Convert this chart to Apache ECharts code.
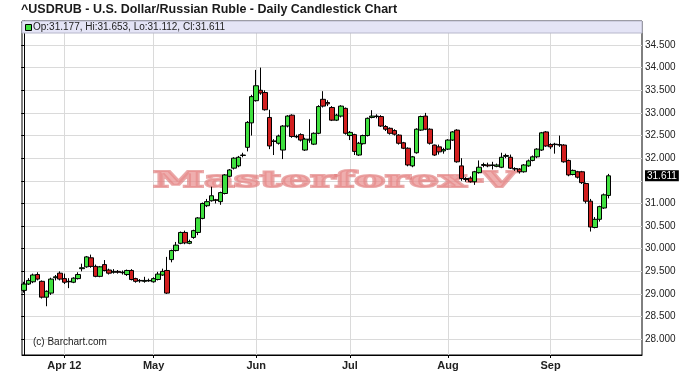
<!DOCTYPE html>
<html lang="en">
<head>
<meta charset="UTF-8">
<title>USDRUB Daily Candlestick Chart</title>
<style>
    *{
        padding:0;
        margin:0;
    }
    body{background:#fff;}
</style>
<script type="text/javascript" src="https://cdn.jsdelivr.net/npm/echarts@6.0.0/dist/echarts.min.js"></script>
</head>
<body>
<div id="main" style="width:688px;height:378px;"></div>
<script type="text/javascript">
// trading days, the last few are empty room on the right of the chart
var dates = [
    '2012-03-20','2012-03-21','2012-03-22','2012-03-23','2012-03-26','2012-03-27','2012-03-28','2012-03-29','2012-03-30',
    '2012-04-02','2012-04-03','2012-04-04','2012-04-05','2012-04-09','2012-04-10','2012-04-11','2012-04-12','2012-04-13',
    '2012-04-16','2012-04-17','2012-04-18','2012-04-19','2012-04-20','2012-04-23','2012-04-24','2012-04-25','2012-04-26',
    '2012-04-27','2012-04-30',
    '2012-05-01','2012-05-02','2012-05-03','2012-05-04','2012-05-07','2012-05-08','2012-05-09','2012-05-10','2012-05-11',
    '2012-05-14','2012-05-15','2012-05-16','2012-05-17','2012-05-18','2012-05-21','2012-05-22','2012-05-23','2012-05-24',
    '2012-05-25','2012-05-28','2012-05-29','2012-05-30','2012-05-31',
    '2012-06-01','2012-06-04','2012-06-05','2012-06-06','2012-06-07','2012-06-08','2012-06-11','2012-06-12','2012-06-13',
    '2012-06-14','2012-06-15','2012-06-18','2012-06-19','2012-06-20','2012-06-21','2012-06-22','2012-06-25','2012-06-26',
    '2012-06-27','2012-06-28','2012-06-29',
    '2012-07-02','2012-07-03','2012-07-04','2012-07-05','2012-07-06','2012-07-09','2012-07-10','2012-07-11','2012-07-12',
    '2012-07-13','2012-07-16','2012-07-17','2012-07-18','2012-07-19','2012-07-20','2012-07-23','2012-07-24','2012-07-25',
    '2012-07-26','2012-07-27','2012-07-30','2012-07-31',
    '2012-08-01','2012-08-02','2012-08-03','2012-08-06','2012-08-07','2012-08-08','2012-08-09','2012-08-10','2012-08-13',
    '2012-08-14','2012-08-15','2012-08-16','2012-08-17','2012-08-20','2012-08-21','2012-08-22','2012-08-23','2012-08-24',
    '2012-08-27','2012-08-28','2012-08-29','2012-08-30','2012-08-31',
    '2012-09-03','2012-09-04','2012-09-05','2012-09-06','2012-09-07','2012-09-10','2012-09-11','2012-09-12','2012-09-13',
    '2012-09-14','2012-09-17','2012-09-18','2012-09-19','2012-09-20',
    '2012-09-21','2012-09-24','2012-09-25','2012-09-26','2012-09-27','2012-09-28','2012-10-01'
];

var opens = [
    29.08,29.22,29.27,29.43,29.28,28.93,29.02,29.36,29.46,29.34,
    29.28,29.26,29.34,29.56,29.60,29.80,29.61,29.39,29.65,29.53,
    29.48,29.50,29.48,29.43,29.52,29.34,29.30,29.28,29.29,29.27,
    29.32,29.42,29.52,29.76,29.96,30.12,30.36,30.12,30.25,30.36,
    30.67,30.95,31.06,31.08,31.04,31.22,31.60,31.78,31.83,32.06,
    32.24,32.78,33.27,33.50,33.45,32.90,32.38,32.33,32.18,32.71,
    32.95,32.48,32.52,32.18,32.40,32.31,32.55,33.30,33.23,33.12,
    32.84,32.93,33.10,32.50,32.52,32.07,32.32,32.50,32.90,32.93,
    32.92,32.70,32.66,32.61,32.51,32.34,32.22,31.83,32.12,32.62,
    32.93,32.64,32.29,32.25,32.16,32.20,32.40,32.62,31.83,31.55,
    31.56,31.48,31.68,31.84,31.85,31.84,31.82,31.80,32.04,32.02,
    31.77,31.76,31.70,31.83,31.95,32.03,32.18,32.58,32.30,32.30,
    32.30,32.29,31.95,31.64,31.70,31.70,31.44,31.05,30.47,30.65,
    30.90,31.177
];
var closes = [
    29.22,29.30,29.42,29.33,28.93,29.06,29.33,29.38,29.33,29.26,
    29.27,29.35,29.43,29.58,29.82,29.61,29.39,29.60,29.52,29.46,
    29.50,29.48,29.47,29.52,29.32,29.28,29.29,29.30,29.30,29.34,
    29.44,29.50,29.02,29.96,30.08,30.36,30.13,30.16,30.40,30.68,
    31.00,31.04,31.17,31.07,31.24,31.63,31.74,32.00,32.02,32.07,
    32.79,33.36,33.60,33.44,33.07,32.27,32.37,32.49,32.71,32.93,
    32.48,32.47,32.40,32.42,32.42,32.55,33.14,33.15,33.20,32.84,
    32.95,33.15,32.55,32.57,32.15,32.33,32.50,32.88,32.93,32.92,
    32.71,32.64,32.55,32.53,32.33,32.22,31.85,32.03,32.64,32.92,
    32.64,32.33,32.07,32.14,32.19,32.40,32.58,31.92,31.55,31.53,
    31.48,31.70,31.80,31.86,31.83,31.85,31.85,32.02,32.06,31.78,
    31.76,31.70,31.85,31.94,32.03,32.20,32.56,32.27,32.25,32.31,
    32.29,31.92,31.63,31.73,31.58,31.46,31.05,30.48,30.65,30.93,
    31.19,31.611
];
var lows = [
    29.03,29.20,29.24,29.30,28.90,28.73,28.98,29.30,29.30,29.22,
    29.13,29.24,29.32,29.50,29.58,29.58,29.37,29.37,29.50,29.43,
    29.45,29.45,29.43,29.40,29.30,29.25,29.25,29.25,29.27,29.25,
    29.30,29.40,29.00,29.70,29.94,30.10,30.10,30.10,30.22,30.30,
    30.65,30.92,31.04,31.00,30.97,31.20,31.58,31.75,31.80,32.02,
    32.15,32.50,33.25,33.40,33.05,32.20,32.07,32.30,31.98,32.68,
    32.45,32.44,32.37,32.16,32.34,32.29,32.53,33.12,33.15,32.82,
    32.82,32.90,32.52,32.40,32.07,32.05,32.30,32.48,32.88,32.88,
    32.69,32.60,32.52,32.50,32.30,32.20,31.82,31.80,32.10,32.60,
    32.62,32.30,32.05,32.08,32.10,32.18,32.38,31.90,31.50,31.48,
    31.46,31.41,31.66,31.80,31.80,31.75,31.80,31.78,32.00,31.76,
    31.72,31.66,31.68,31.81,31.93,32.00,32.16,32.25,32.20,32.10,
    32.25,31.90,31.60,31.62,31.55,31.43,31.00,30.38,30.45,30.60,
    30.88,31.112
];
var highs = [
    29.27,29.35,29.45,29.48,29.30,29.08,29.36,29.42,29.50,29.45,
    29.35,29.37,29.48,29.67,29.84,29.87,29.65,29.62,29.75,29.56,
    29.55,29.53,29.52,29.54,29.55,29.36,29.33,29.38,29.34,29.37,
    29.49,29.56,29.82,29.98,30.15,30.38,30.40,30.20,30.42,30.70,
    31.02,31.10,31.37,31.10,31.26,31.65,31.76,32.02,32.05,32.12,
    32.82,33.40,33.95,34.00,33.50,33.07,32.42,32.52,32.73,32.95,
    32.97,32.52,32.55,32.45,32.86,32.57,33.17,33.48,33.28,33.15,
    32.98,33.17,33.12,32.60,32.54,32.36,32.52,32.90,33.06,32.97,
    32.95,32.73,32.68,32.64,32.53,32.36,32.24,32.05,32.66,32.94,
    33.00,32.66,32.30,32.30,32.23,32.42,32.60,32.64,32.00,31.58,
    31.60,31.72,31.95,31.90,31.90,31.92,31.88,32.12,32.10,32.08,
    31.80,31.78,31.87,31.97,32.06,32.22,32.58,32.60,32.33,32.34,
    32.50,32.31,31.97,31.75,31.72,31.72,31.46,31.10,30.70,30.95,
    31.22,31.653
];

// x axis month marks
var monthStarts = ['2012-04-02','2012-05-01','2012-06-01','2012-07-02','2012-08-01','2012-09-03'];
var monthLabels = ['Apr 12','May','Jun','Jul','Aug','Sep'];

// y axis ticks (31.500 label is hidden behind the last price box)
var yTicks = [28.0,28.5,29.0,29.5,30.0,30.5,31.0,31.5,32.0,32.5,33.0,33.5,34.0,34.5,35.0];
var yLabels = [28.0,28.5,29.0,29.5,30.0,30.5,31.0,32.0,32.5,33.0,33.5,34.0,34.5];

var lastBar = {op: 31.177, hi: 31.653, lo: 31.112, cl: 31.611};

var monthIdx = monthStarts.map(function (d) { return dates.indexOf(d); });
var ohlc = dates.map(function (d, i) {
    if (i >= opens.length) return '-';
    return [opens[i], closes[i], lows[i], highs[i]];
});

var myChart = echarts.init(document.getElementById('main'));

var option = {
    animation: false,
    backgroundColor: '#fff',
    textStyle: {
        fontFamily: '"Liberation Sans", Arial, sans-serif'
    },
    grid: {
        left: 22,
        right: 46,
        top: 21,
        bottom: 23,
        show: true,
        borderColor: '#000',
        borderWidth: 1,
        backgroundColor: '#fff'
    },
    xAxis: [{
        type: 'category',
        data: dates,
        boundaryGap: true,
        show: false
    }, {
        // same bands as the category axis, used for the month grid lines
        type: 'value',
        min: -0.5,
        max: dates.length - 0.5,
        position: 'bottom',
        axisLine: { show: true, lineStyle: { color: '#000' } },
        axisTick: { show: true, length: 3, customValues: monthIdx, lineStyle: { color: '#000' } },
        axisLabel: {
            customValues: monthIdx,
            formatter: function (v) { return monthLabels[monthIdx.indexOf(v)]; },
            fontSize: 11,
            fontWeight: 'bold',
            color: '#222',
            margin: 5
        },
        splitLine: { show: true, lineStyle: { color: '#dadada' } }
    }],
    yAxis: {
        type: 'value',
        position: 'right',
        min: 27.653,
        max: 35.03,
        axisLine: { show: true, lineStyle: { color: '#000' } },
        axisTick: { show: true, inside: true, length: 3, customValues: yTicks, lineStyle: { color: '#000' } },
        axisLabel: {
            customValues: yLabels,
            formatter: function (v) { return v.toFixed(3); },
            fontSize: 10,
            color: '#222',
            margin: 3
        },
        splitLine: { show: true, lineStyle: { color: '#dadada' } }
    },
    series: [{
        name: 'USDRUB',
        type: 'candlestick',
        xAxisIndex: 0,
        data: ohlc,
        barWidth: 5,
        itemStyle: {
            color: '#3fe03f',
            color0: '#d21f1f',
            borderColor: '#000',
            borderColor0: '#000',
            borderWidth: 1
        },
        markLine: {
            silent: true,
            symbol: 'none',
            animation: false,
            data: [{ yAxis: lastBar.cl }],
            lineStyle: { color: 'rgba(0,0,0,0)', width: 0 },
            label: {
                position: 'end',
                distance: 3,
                formatter: lastBar.cl.toFixed(3),
                color: '#fff',
                backgroundColor: '#000',
                padding: [1, 2, 0, 2],
                fontSize: 10
            }
        }
    }],
    graphic: [
        {
            type: 'text',
            left: 21,
            top: 3,
            style: {
                text: '^USDRUB - U.S. Dollar/Russian Ruble - Daily Candlestick Chart',
                font: 'bold 12.5px "Liberation Sans", Arial, sans-serif',
                fill: '#1a1a1a'
            }
        },
        // watermark, under the candles
        {
            type: 'text',
            x: 335,
            y: 181,
            scaleX: 2.0,
            z: 1,
            silent: true,
            style: {
                text: 'Masterforex-V',
                font: '900 23px "DejaVu Serif", serif',
                fill: 'rgba(232,140,140,0.7)',
                stroke: 'rgba(220,110,110,0.6)',
                lineWidth: 2,
                align: 'center',
                verticalAlign: 'middle'
            }
        },
        // legend strip
        {
            type: 'rect',
            z: 10,
            shape: { x: 22, y: 21, width: 620, height: 12 },
            style: { fill: '#e4e4f6', stroke: '#b8b8cc', lineWidth: 1 }
        },
        {
            type: 'rect',
            z: 11,
            shape: { x: 25.5, y: 24.5, width: 6, height: 6 },
            style: { fill: '#3fe03f', stroke: '#000', lineWidth: 1 }
        },
        {
            type: 'text',
            z: 11,
            x: 33,
            y: 27.5,
            style: {
                text: 'Op:' + lastBar.op.toFixed(3) + ', Hi:' + lastBar.hi.toFixed(3) +
                      ', Lo:' + lastBar.lo.toFixed(3) + ', Cl:' + lastBar.cl.toFixed(3),
                font: '10px "Liberation Sans", Arial, sans-serif',
                fill: '#222',
                verticalAlign: 'middle'
            }
        },
        {
            type: 'text',
            z: 11,
            x: 33,
            y: 342,
            style: {
                text: '(c) Barchart.com',
                font: '10px "Liberation Sans", Arial, sans-serif',
                fill: '#222',
                verticalAlign: 'middle'
            }
        }
    ]
};

myChart.setOption(option);
</script>
</body>
</html>
